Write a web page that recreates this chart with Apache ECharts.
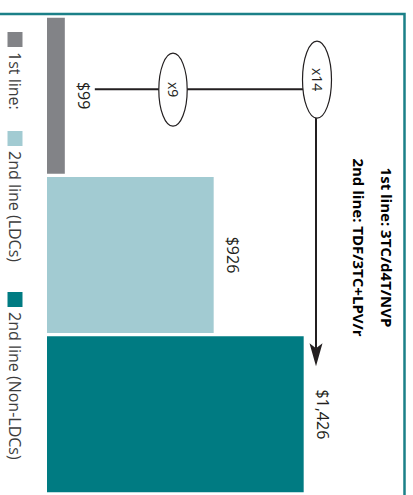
<!DOCTYPE html>
<html><head><meta charset="utf-8">
<script src="https://cdn.jsdelivr.net/npm/echarts@6/dist/echarts.min.js"></script>
<style>
html,body{margin:0;padding:0;width:413px;height:495px;overflow:hidden;background:#fff;}
#chart{position:absolute;left:0;top:0;width:495px;height:413px;transform-origin:0 0;transform:translate(413px,0) rotate(90deg);}
</style></head><body><div id="chart"></div>
<script>
// ---- data ----
const categories = ['1st line', '2nd line (LDCs)', '2nd line (Non-LDCs)'];
const seriesNames = ['1st line:', '2nd line (LDCs)', '2nd line (Non-LDCs)'];
const costs = [99, 926, 1426];
const costLabels = ['$99', '$926', '$1,426'];
const ratioLabels = ['x9', 'x14'];
const ratioLevels = [700, 1500];
const titleLines = ['1st line: 3TC/d4T/NVP', '2nd line: TDF/3TC+LPV/r'];

// ---- style ----
const colors = ['#828387', '#a2cbd2', '#007b82'];
const ink = '#231f20';
const ff = '"Open Sans", "Noto Sans", sans-serif';
const legendLefts = [32, 131, 292];

const chart = echarts.init(document.getElementById('chart'), null, {renderer: 'svg', width: 495, height: 413});

const barSeries = seriesNames.map((name, i) => ({
  name: name,
  type: 'bar',
  stack: 'total',
  barWidth: 156,
  itemStyle: {color: colors[i]},
  data: costs.map((v, j) => (j === i ? v : '-')),
  label: {
    show: true, position: 'top', distance: 11,
    formatter: () => costLabels[i],
    fontSize: 16, color: ink, fontFamily: ff
  },
  emphasis: {disabled: true}
}));

const annotation = {
  type: 'custom',
  coordinateSystem: 'cartesian2d',
  data: [[0, 0]],
  z: 10,
  silent: true,
  clip: false,
  renderItem: function (params, api) {
    const c0 = api.coord([0, 0]);
    const c2 = api.coord([2, 0]);
    const lineU = c0[0] - 6.5;
    const vStart = api.coord([0, costs[0]])[1] - 30;
    const v9 = api.coord([0, ratioLevels[0]])[1];
    const v14 = api.coord([0, ratioLevels[1]])[1];
    const tipU = c2[0] - 48;
    const e9u = c0[0] - 6;
    const e14u = c0[0] - 16;
    const av = v14 + 1;
    return {
      type: 'group',
      children: [
        {type: 'line', shape: {x1: lineU, y1: vStart, x2: lineU, y2: v14}, style: {stroke: ink, lineWidth: 2}},
        {type: 'line', shape: {x1: e14u, y1: av, x2: tipU - 18, y2: av}, style: {stroke: ink, lineWidth: 2}},
        {type: 'polygon', shape: {points: [[tipU, av], [tipU - 23, av - 6.5], [tipU - 18, av], [tipU - 23, av + 6.5]]}, style: {fill: ink}},
        {type: 'ellipse', shape: {cx: e9u, cy: v9, rx: 36.5, ry: 14.2}, style: {fill: '#fff', stroke: ink, lineWidth: 1.2}},
        {type: 'text', style: {x: e9u, y: v9, text: ratioLabels[0], align: 'center', verticalAlign: 'middle', fontSize: 14, fontFamily: ff, fill: ink}},
        {type: 'ellipse', shape: {cx: e14u, cy: v14, rx: 38.5, ry: 14.5}, style: {fill: '#fff', stroke: ink, lineWidth: 1.2}},
        {type: 'text', style: {x: e14u, y: v14, text: ratioLabels[1], align: 'center', verticalAlign: 'middle', fontSize: 14, fontFamily: ff, fill: ink}}
      ]
    };
  }
};

chart.setOption({
  animation: false,
  backgroundColor: '#fff',
  title: {
    text: titleLines.join('\n'),
    left: 'center', top: 12, padding: 0,
    textStyle: {fontSize: 15, fontWeight: 'bold', color: '#000', lineHeight: 28, fontFamily: ff}
  },
  legend: seriesNames.map((n, i) => ({
    data: [n], left: legendLefts[i], bottom: 7, padding: 0,
    itemWidth: 15, itemHeight: 15, icon: 'rect', selectedMode: false,
    textStyle: {fontSize: 16, color: '#3c3c3c', fontFamily: ff}
  })),
  grid: {left: 16, right: 1, top: 6, bottom: 47},
  xAxis: {type: 'category', data: categories, show: false},
  yAxis: {type: 'value', min: 0, max: 2000, show: false},
  graphic: [{
    type: 'rect', silent: true,
    shape: {x: 14, y: 8.5, width: 700, height: 700},
    style: {fill: 'none', stroke: '#1b8088', lineWidth: 2.5}
  }],
  series: barSeries.concat([annotation])
});
</script></body></html>
